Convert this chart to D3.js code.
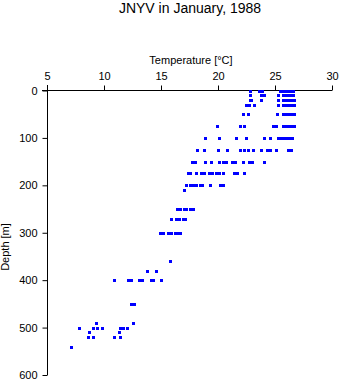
<!DOCTYPE html>
<html>
<head>
<meta charset="utf-8">
<script src="https://cdn.jsdelivr.net/npm/d3@7"></script>
<style>
  html, body { margin: 0; padding: 0; background: #fff; }
  svg { display: block; }
  text { font-family: "Liberation Sans", Arial, Helvetica, sans-serif; fill: #000; }
</style>
</head>
<body>
<svg id="chart" width="341" height="384"></svg>
<script>
// Temperature profile casts: each depth level (m) with the temperatures (°C) observed there
const depthLevels = [0, 10, 20, 30, 50, 75, 100, 125, 150, 175, 200, 210, 250, 270, 300, 360, 380, 400, 450, 490, 500, 510, 520, 540];
const tempsByLevel = [
  [22.8, 23.6, 23.9, 25.4, 25.5, 25.7, 25.9, 26.0, 26.2, 26.4, 26.6],
  [22.8, 23.8, 24.0, 25.3, 25.7, 25.9, 26.0, 26.2, 26.4, 26.6],
  [22.8, 22.9, 23.8, 25.3, 25.7, 25.9, 26.1, 26.3, 26.5, 26.7],
  [22.5, 22.7, 23.2, 25.3, 25.7, 25.9, 26.1, 26.3, 26.5, 26.7],
  [22.2, 22.6, 25.2, 25.7, 25.9, 26.1, 26.3, 26.5, 26.7],
  [19.9, 21.9, 22.3, 24.8, 25.1, 25.7, 25.9, 26.1, 26.3, 26.5, 26.7],
  [18.9, 20.1, 21.6, 22.5, 24.0, 24.6, 25.3, 25.5, 25.7, 25.9, 26.1, 26.3, 26.5],
  [18.2, 18.8, 20.0, 20.8, 21.9, 22.3, 22.6, 23.1, 23.8, 24.3, 24.6, 25.1, 26.1, 26.4],
  [17.7, 18.0, 18.9, 19.4, 20.1, 20.4, 20.7, 21.2, 21.5, 22.2, 22.7, 23.0, 24.0],
  [17.4, 17.5, 18.1, 18.5, 18.8, 19.2, 19.5, 19.8, 20.1, 20.4, 21.4, 21.7, 22.3],
  [17.2, 17.5, 17.8, 18.1, 18.4, 18.6, 19.3, 20.2, 20.4],
  [17.0],
  [16.4, 16.7, 17.0, 17.2, 17.5, 17.8],
  [15.9, 16.3, 16.6, 16.9, 17.1],
  [14.9, 15.2, 15.6, 15.9, 16.2, 16.5, 16.7],
  [15.8],
  [13.8, 14.6],
  [10.9, 12.1, 12.4, 13.1, 13.3, 14.1, 14.3, 15.0],
  [12.4, 12.6],
  [9.3, 12.5],
  [7.8, 9.0, 9.4, 9.8, 11.4, 11.7, 12.0],
  [8.7, 11.3],
  [8.6, 9.0, 10.9, 11.4],
  [7.1]
];
const tempTicks = [5, 10, 15, 20, 25, 30];
const depthTicks = [0, 100, 200, 300, 400, 500, 600];

const titleText = "JNYV in January, 1988";
const xLabel = "Temperature [°C]";
const yLabel = "Depth [m]";

const points = [];
depthLevels.forEach((d, i) => tempsByLevel[i].forEach(t => points.push({ depth: d, temp: t })));

const svg = d3.select("#chart");

const x = d3.scaleLinear().domain([5, 30]).range([47, 332]);
const y = d3.scaleLinear().domain([0, 600]).range([90.5, 375]);

// Title
svg.append("text")
  .attr("x", 190).attr("y", 13)
  .attr("text-anchor", "middle")
  .style("font-size", "14px")
  .text(titleText);

// Temperature axis along the top
const xAxis = svg.append("g")
  .attr("transform", "translate(0,90.5)")
  .call(d3.axisTop(x).tickValues(tempTicks).tickSize(5).tickSizeOuter(0).tickPadding(6));
xAxis.select(".domain").attr("d", `M42,0H${x(30)}`);

// Depth axis on the left
const yAxis = svg.append("g")
  .attr("transform", "translate(47.5,0)")
  .call(d3.axisLeft(y).tickValues(depthTicks).tickSize(5).tickSizeOuter(0).tickPadding(5));
yAxis.select(".domain").attr("d", `M0,85V${y(600)}`);

svg.selectAll(".tick text").style("font-size", "11px").style("font-family", '"Liberation Sans", Arial, sans-serif');
svg.selectAll(".domain, .tick line").attr("stroke", "#000").attr("stroke-width", 1);

svg.append("text")
  .attr("x", 191).attr("y", 64)
  .attr("text-anchor", "middle")
  .style("font-size", "11px")
  .text(xLabel);

svg.append("text")
  .attr("transform", "translate(9,247) rotate(-90)")
  .attr("text-anchor", "middle")
  .style("font-size", "11px")
  .text(yLabel);

// Observations
svg.append("g")
  .attr("shape-rendering", "crispEdges")
  .selectAll("rect")
  .data(points)
  .join("rect")
  .attr("x", d => Math.round(x(d.temp)) - 1)
  .attr("y", d => Math.round(y(d.depth)) - 1)
  .attr("width", 3)
  .attr("height", 3)
  .attr("fill", "#0000ff");
</script>
</body>
</html>
